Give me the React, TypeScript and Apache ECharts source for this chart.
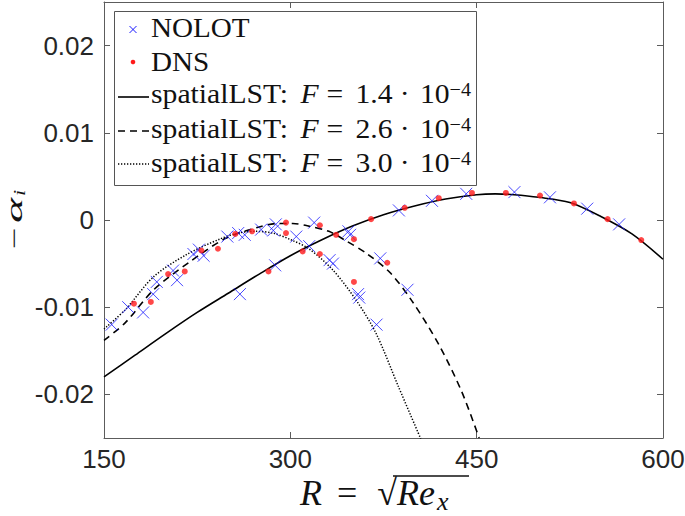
import React, { useEffect, useRef } from "react";
import * as echarts from "echarts";

// ---- data ----
const xTickValues = [150, 300, 450, 600];
const yTickLabels = ["-0.02", "-0.01", "0", "0.01", "0.02"];

const nolotR = [156.2, 169.5, 181.5, 189.6, 192.5, 205.6, 208.8, 222.0, 226.4, 230.2, 249.3, 258.0, 263.3, 259.4, 276.5, 286.3, 288.3, 287.8, 304.8, 315.2, 319.2, 331.6, 334.3, 346.8, 348.1, 354.5, 355.5, 369.4, 372.4, 387.4, 394.3, 414.0, 441.6, 480.4, 509.0, 539.0, 564.7];
const nolotAlpha = [-0.0120, -0.0100, -0.0106, -0.0085, -0.0071, -0.0058, -0.0069, -0.0039, -0.0034, -0.0041, -0.0019, -0.0015, -0.0017, -0.0085, -0.0011, -0.0012, -0.0005, -0.0052, -0.0019, -0.0030, -0.0003, -0.0046, -0.0050, -0.0013, -0.0017, -0.0085, -0.0089, -0.0120, -0.0044, 0.0011, -0.0080, 0.0022, 0.0030, 0.0032, 0.0026, 0.0013, -0.0005];

const dnsR = [174.1, 187.7, 201.6, 215.0, 228.4, 241.7, 255.7, 269.2, 282.4, 296.5, 296.5, 309.9, 323.8, 323.8, 336.8, 351.2, 351.2, 365.0, 378.0, 392.1, 419.5, 446.2, 473.5, 501.0, 528.3, 555.4, 582.5];
const dnsAlpha = [-0.0096, -0.0094, -0.0062, -0.0059, -0.0035, -0.0033, -0.0016, -0.0013, -0.0059, -0.0003, -0.0015, -0.0036, -0.0006, -0.0039, -0.0017, -0.0022, -0.0071, 0.0001, -0.0049, 0.0014, 0.0025, 0.0031, 0.0031, 0.0028, 0.0019, 0.0001, -0.0023];

const lst14R = [150, 175, 200, 225, 250, 275, 300, 325, 350, 375, 400, 425, 450, 465, 480, 500, 525, 550, 575, 600];
const lst14Alpha = [-0.0180, -0.0155, -0.0130, -0.0106, -0.0084, -0.0062, -0.0041, -0.0023, -0.0007, 0.0006, 0.0016, 0.0024, 0.0029, 0.0030, 0.0029, 0.0026, 0.0020, 0.0004, -0.0016, -0.0045];

const lst26R = [150, 167, 190, 219, 248, 275, 290, 302, 315, 331, 345, 361, 380, 398, 420, 438, 452];
const lst26Alpha = [-0.0138, -0.0118, -0.0080, -0.0048, -0.0021, -0.0008, -0.0004, -0.0004, -0.0007, -0.0013, -0.0024, -0.0038, -0.0060, -0.0093, -0.0144, -0.0197, -0.0250];

const lst30R = [150, 167, 190, 216, 243, 258, 272, 286, 301, 315, 334, 353, 369, 387, 405];
const lst30Alpha = [-0.0125, -0.0103, -0.0065, -0.0040, -0.0022, -0.0015, -0.0013, -0.0015, -0.0023, -0.0033, -0.0057, -0.0092, -0.0130, -0.0191, -0.0251];

const legendNames = ["NOLOT", "DNS", "spatialLST: F = 1.4 · 10⁻⁴", "spatialLST: F = 2.6 · 10⁻⁴", "spatialLST: F = 3.0 · 10⁻⁴"];
const fValues = ["1.4", "2.6", "3.0"];

const pair = (xs: number[], ys: number[]) => xs.map((x, i) => [x, ys[i]]);

export default function App() {
  const ref = useRef<HTMLDivElement>(null);
  useEffect(() => {
    if (!ref.current) return;
    const chart = echarts.init(ref.current, null, { renderer: "svg" });
    const axisColor = "#5c5c5c";
    const labelColor = "#262626";
    const ink = "#111111";
    const serif = '"Liberation Serif", "DejaVu Serif", serif';
    const sans = '"Liberation Sans", Arial, sans-serif';
    const blue = "#1a1aff";
    const red = "#ff1a1a";

    const yFmt = (v: number) => {
      const r = Math.round(v * 1000) / 1000;
      const s = Math.abs(r) < 1e-9 ? "0" : String(r);
      return yTickLabels.includes(s) ? s : "";
    };
    const xFmt = (v: number) => (xTickValues.includes(Math.round(v)) ? String(Math.round(v)) : "");

    const baseX = {
      type: "value",
      min: 150,
      max: 600,
      interval: 150,
      splitLine: { show: false },
      axisLine: { show: true, onZero: false, lineStyle: { color: axisColor, width: 1 } },
      axisTick: { show: true, inside: true, length: 6, lineStyle: { color: axisColor, width: 1 } },
    };
    const baseY = {
      type: "value",
      min: -0.025,
      max: 0.025,
      splitNumber: 5,
      splitLine: { show: false },
      axisLine: { show: true, onZero: false, lineStyle: { color: axisColor, width: 1 } },
      axisTick: { show: true, inside: true, length: 6, lineStyle: { color: axisColor, width: 1 } },
    };

    // legend rich text styles (font 28, top aligned tokens)
    const lgN = { fontSize: 28, fontFamily: serif, fill: ink, lineHeight: 32, verticalAlign: "top" };
    const lgI = { ...lgN, fontStyle: "italic", padding: [0, 0, 0, 11.8] };
    const lgEq = { ...lgN, padding: [0, 11.5, 0, 7.4] };
    const lgDot = { ...lgN, padding: [0, 9.7, 0, 6.8] };
    const lgSup = { fontSize: 19, fontFamily: serif, fill: ink, lineHeight: 19, padding: [1, 0, 0, 0], verticalAlign: "top" };
    const lineText = (f: string) => `{n|spatialLST:}{i|F}{eq|=}{n|${f}}{dot|·}{n|10}{s|−4}`;

    const legendTextY = [27.2, 61.5, 95.5, 129.8, 163.8];
    const legendMarkY = [29.5, 62, 97, 131, 164];
    const lx0 = 118, lx1 = 149, textX = 151;

    const yTitlePiece = (text: string, x: number, y: number, size: number, italic: boolean, sx: number) => ({
      type: "text", z: 11, x, y, rotation: Math.PI / 2, scaleX: sx,
      style: {
        text, fill: ink, fontSize: size, fontFamily: serif, fontStyle: italic ? "italic" : "normal",
        align: "left", verticalAlign: "middle",
      },
    });

    const option = {
      animation: false,
      grid: { left: 104, right: 22, top: 2, bottom: 78, outerBoundsMode: "none", containLabel: false },
      xAxis: [
        { ...baseX, position: "bottom", axisLabel: { color: labelColor, fontSize: 26, fontFamily: sans, margin: 8, formatter: xFmt } },
        { ...baseX, position: "top", axisLabel: { show: false } },
      ],
      yAxis: [
        { ...baseY, position: "left", axisLabel: { color: labelColor, fontSize: 26, fontFamily: sans, margin: 10, formatter: yFmt, showMinLabel: false, showMaxLabel: false } },
        { ...baseY, position: "right", axisLabel: { show: false } },
      ],
      series: [
        {
          name: legendNames[2], type: "line", data: pair(lst14R, lst14Alpha), symbol: "none", smooth: 0.3,
          lineStyle: { color: "#000", width: 1.6, type: "solid" }, clip: true, z: 2,
        },
        {
          name: legendNames[3], type: "line", data: pair(lst26R, lst26Alpha), symbol: "none", smooth: 0.3,
          lineStyle: { color: "#000", width: 1.6, type: [7, 5] }, clip: true, z: 2,
        },
        {
          name: legendNames[4], type: "line", data: pair(lst30R, lst30Alpha), symbol: "none", smooth: 0.3,
          lineStyle: { color: "#000", width: 1.5, type: [1.3, 1.7] }, clip: true, z: 2,
        },
        {
          name: legendNames[0], type: "scatter", data: pair(nolotR, nolotAlpha),
          symbol: "path://M0,0L10,10M10,0L0,10", symbolSize: 12,
          itemStyle: { color: "none", borderColor: blue, borderWidth: 1 }, z: 3,
        },
        {
          name: legendNames[1], type: "scatter", data: pair(dnsR, dnsAlpha),
          symbol: "circle", symbolSize: 6, itemStyle: { color: red }, z: 4,
        },
      ],
      graphic: [
        {
          type: "rect", left: 114, top: 11, z: 10,
          shape: { x: 0, y: 0, width: 362, height: 174 },
          style: { fill: "#fff", stroke: "#555", lineWidth: 1 },
        },
        { type: "line", z: 11, shape: { x1: 129.5, y1: legendMarkY[0] - 3.5, x2: 136.5, y2: legendMarkY[0] + 3.5 }, style: { stroke: blue, lineWidth: 1 } },
        { type: "line", z: 11, shape: { x1: 129.5, y1: legendMarkY[0] + 3.5, x2: 136.5, y2: legendMarkY[0] - 3.5 }, style: { stroke: blue, lineWidth: 1 } },
        { type: "circle", z: 11, shape: { cx: 133, cy: legendMarkY[1], r: 2.3 }, style: { fill: red } },
        { type: "line", z: 11, shape: { x1: lx0, y1: legendMarkY[2], x2: lx1, y2: legendMarkY[2] }, style: { stroke: "#000", lineWidth: 1.6 } },
        { type: "line", z: 11, shape: { x1: lx0, y1: legendMarkY[3], x2: lx1, y2: legendMarkY[3] }, style: { stroke: "#000", lineWidth: 1.6, lineDash: [7, 5] } },
        { type: "line", z: 11, shape: { x1: lx0, y1: legendMarkY[4], x2: lx1, y2: legendMarkY[4] }, style: { stroke: "#000", lineWidth: 1.5, lineDash: [1.3, 1.7] } },
        ...[0, 1].map((k) => ({
          type: "text", z: 11, x: textX, y: legendTextY[k], scaleX: 1.04,
          style: { text: legendNames[k], fontSize: 28, lineHeight: 32, fontFamily: serif, fill: ink, verticalAlign: "middle", align: "left" },
        })),
        ...fValues.map((f, k) => ({
          type: "text", z: 11, x: textX, y: legendTextY[2 + k], scaleX: 1.06,
          style: { text: lineText(f), fill: ink, verticalAlign: "middle", align: "left", rich: { n: lgN, i: lgI, eq: lgEq, dot: lgDot, s: lgSup } },
        })),
        // y-axis title  −α_i  (reads bottom to top)
        yTitlePiece("−", 13.9, 249, 24, false, 1.6),
        yTitlePiece("α", 13.9, 223, 24, true, 2.0),
        yTitlePiece("i", 19.5, 196, 16, true, 1.4),
        // x-axis title  R = √(Re_x)
        {
          type: "text", z: 11, x: 300, y: 494.5,
          style: {
            text: "{i|R}{eq|=}{n|√}{i|Re}{s|x}", fill: ink, align: "left", verticalAlign: "middle",
            rich: {
              i: { fontSize: 36, fontFamily: serif, fontStyle: "italic", fill: ink, lineHeight: 40, verticalAlign: "top" },
              eq: { fontSize: 36, fontFamily: serif, fill: ink, lineHeight: 40, verticalAlign: "top", padding: [0, 20, 0, 15] },
              n: { fontSize: 36, fontFamily: serif, fill: ink, lineHeight: 40, verticalAlign: "top" },
              s: { fontSize: 26, fontFamily: serif, fontStyle: "italic", fill: ink, lineHeight: 26, padding: [14, 0, 0, 2], verticalAlign: "top" },
            },
          },
        },
        { type: "line", z: 11, shape: { x1: 393, y1: 476, x2: 469, y2: 476 }, style: { stroke: ink, lineWidth: 1.3 } },
      ],
    };
    chart.setOption(option as any);
    return () => chart.dispose();
  }, []);
  return (
    <div
      ref={ref}
      style={{ position: "fixed", left: 0, top: 0, width: 685, height: 516, background: "#fff" }}
    />
  );
}
